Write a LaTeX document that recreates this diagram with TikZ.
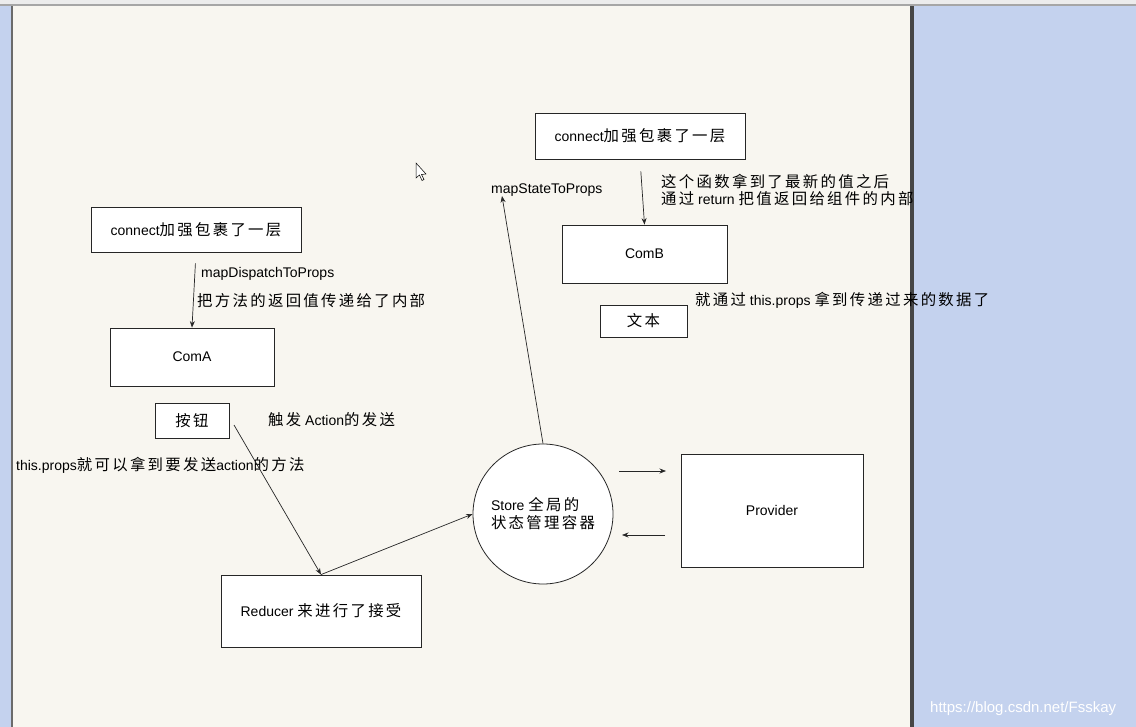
\documentclass[tikz,border=0pt]{standalone}
\usepackage{fontspec}
\setmainfont{Liberation Sans}
\newfontfamily\zhfont[LetterSpace=15,Scale=1.1]{Noto Sans CJK SC}
\newcommand{\zh}[1]{{\zhfont #1}}
\usetikzlibrary{arrows.meta,positioning}
\definecolor{canvas}{HTML}{F8F6F0}
\definecolor{panel}{HTML}{C4D2EE}
\definecolor{frame}{HTML}{464646}
\tikzset{
 box/.style={draw=black!85,fill=white,line width=0.8pt,inner sep=0pt,font=\fontsize{14}{18}\selectfont},
 note/.style={anchor=west,inner sep=0pt,font=\fontsize{14}{17}\selectfont},
 arr/.style={-{Stealth[length=6.5pt,width=5pt]},line width=0.7pt,black!85},
}

\begin{document}
\begin{tikzpicture}[x=1pt,y=-1pt]
\useasboundingbox (0,0) rectangle (1136,727);
\fill[gray!15](0,0) rectangle (1136,5);
\draw[gray!70,line width=1.5pt](0,5)--(1136,5);
\fill[panel](0,6) rectangle (12,727);
\fill[frame!80](11,6) rectangle (13,727);
\fill[canvas](13,6) rectangle (910,727);
\fill[frame](910,6) rectangle (914,727);
\fill[panel](914,6) rectangle (1136,727);
\filldraw[fill=white,line width=0.5pt](416,163)--(416,178)--(419.5,175)--(422,180.5)--(424,179.5)--(421.5,174.5)--(426,174)--cycle;

\node[box,minimum width=210,minimum height=45](connA) at (196,229.5){connect\zh{加强包裹了一层}};
\node[box,minimum width=164,minimum height=58](comA) at (192,357){ComA};
\node[box,minimum width=74,minimum height=35](btn) at (192,420.5){\zh{按钮}};
\node[box,minimum width=200,minimum height=72](reducer) at (321,611){Reducer \zh{来进行了接受}};
\node[box,circle,minimum size=140,align=left](store) at (543,514){Store \zh{全局的}\\\zh{状态管理容器}};
\node[box,minimum width=182,minimum height=113](provider) at (772,510.5){Provider};
\node[box,minimum width=210,minimum height=46](connB) at (640,136){connect\zh{加强包裹了一层}};
\node[box,minimum width=165,minimum height=58](comB) at (644.5,254){ComB};
\node[box,minimum width=87,minimum height=32](wenben) at (643.5,321){\zh{文本}};

\node[note](mdp) at (201,274){mapDispatchToProps};
\node[note](mdpnote) at (197,301){\zh{把方法的返回值传递给了内部}};
\node[note](trig) at (268,420){\zh{触发} Action\zh{的发送}};
\node[note](propsnote) at (16,465){this.props\zh{就可以拿到要发送}action\zh{的方法}};
\node[note](mst) at (491,190){mapStateToProps};
\node[note](newval) at (661,182){\zh{这个函数拿到了最新的值之后}};
\node[note](retnote) at (661,199){\zh{通过} return \zh{把值返回给组件的内部}};

\coordinate(btnout) at (234,425);
\coordinate(mstin) at (502,196);
\coordinate(toprov) at (666,471);
\coordinate(fromst) at (619,471);
\coordinate(fromprov) at (665,535);
\coordinate(tost) at (622,535);

\draw[arr,shorten <=11pt](connA.south)--(comA.north);
\draw[arr](btnout)--(reducer.north);
\draw[arr](reducer.north)--(store.west);
\draw[arr](store.north)--(mstin);
\draw[arr](fromst)--(toprov);
\draw[arr](fromprov)--(tost);
\draw[arr,shorten <=12pt](connB.south)--(comB.north);

\node[note](thisp) at (695,300){\zh{就通过} this.props \zh{拿到传递过来的数据了}};
\node[note,text=white,font=\fontsize{15}{18}\selectfont](mark) at (930,709){https://blog.csdn.net/Fsskay};
\end{tikzpicture}
\end{document}
